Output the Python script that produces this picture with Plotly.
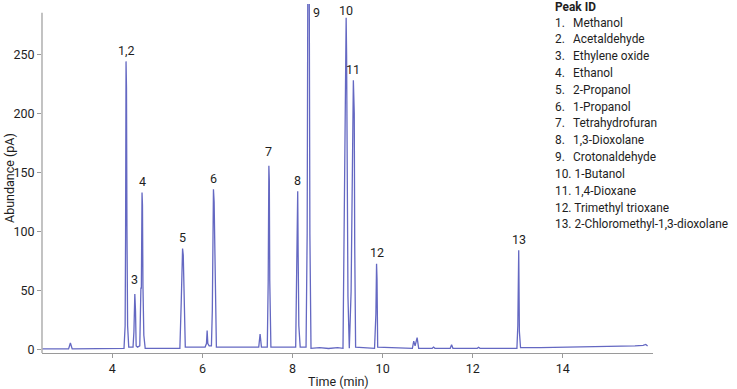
import plotly.graph_objects as go

# ---- chromatogram trace (time in min, abundance in pA) ----
time_min = [2.45, 3.03, 3.07, 3.11, 4.26, 4.285, 4.295, 4.305, 4.315, 4.325, 4.34, 4.365,
            4.46, 4.48, 4.50, 4.515, 4.53, 4.56, 4.61, 4.635, 4.645, 4.66, 4.67, 4.68, 4.70, 4.73,
            5.50, 5.53, 5.545, 5.56, 5.575, 5.59, 5.62, 6.06, 6.09, 6.105, 6.12, 6.15,
            6.20, 6.22, 6.23, 6.245, 6.26, 6.27, 6.285, 6.31, 7.25, 7.28, 7.31,
            7.44, 7.46, 7.475, 7.485, 7.495, 7.52, 8.07, 8.10, 8.115, 8.125, 8.14, 8.17,
            8.30, 8.325, 8.34, 8.37, 8.385, 8.41, 8.6, 8.8, 9.0, 9.12,
            9.155, 9.19, 9.20, 9.23, 9.26, 9.30, 9.35, 9.37, 9.38, 9.40,
            9.82, 9.85, 9.865, 9.875, 9.89, 10.66, 10.69, 10.72, 10.765, 10.80,
            11.10, 11.13, 11.16, 11.50, 11.53, 11.56, 12.10, 12.13, 12.16,
            12.98, 13.00, 13.02, 13.035, 13.06, 13.5, 14.5, 15.3, 15.6, 15.78, 15.84, 15.88]
abundance_pA = [0.5, 0.5, 5.5, 0.5, 1, 20, 95, 244, 222, 104, 20, 2,
                2, 15, 47, 33, 3, 2, 3, 52, 52, 133, 122, 55, 12, 1,
                1, 40, 78, 85.5, 80, 40, 2, 2, 5, 16, 5, 3,
                3, 33, 94, 135.6, 125, 94, 30, 2, 2, 13, 2,
                2, 58, 155.5, 143, 58, 2, 2, 70, 134, 80, 20, 2,
                2, 98, 320, 320, 98, 1, 1.5, 0.8, 1.5, 1,
                118, 281, 250, 45, 1, 49, 228, 200, 89, 2,
                1, 30, 72.5, 60, 2, 1, 7, 3, 10, 1,
                1, 2, 1, 1, 4, 1, 1, 1.8, 1,
                1, 20, 84, 15, 1.5, 1.5, 2, 2.5, 3, 3.5, 4.2, 3]

# ---- peak labels ----
peak_labels = ["1,2", "3", "4", "5", "6", "7", "8", "9", "10", "11", "12", "13"]
peak_times = [4.305, 4.50, 4.66, 5.56, 6.245, 7.475, 8.12, 8.35, 9.19, 9.35, 9.865, 13.02]
peak_heights = [244, 47, 133, 85.5, 135.6, 155.5, 134, 285, 281, 228, 72.5, 84]

# ---- peak ID list ----
peak_ids = ["1.", "2.", "3.", "4.", "5.", "6.", "7.", "8.", "9.", "10.", "11.", "12.", "13."]
compounds = ["Methanol", "Acetaldehyde", "Ethylene oxide", "Ethanol", "2-Propanol",
             "1-Propanol", "Tetrahydrofuran", "1,3-Dioxolane", "Crotonaldehyde",
             "1-Butanol", "1,4-Dioxane", "Trimethyl trioxane", "2-Chloromethyl-1,3-dioxolane"]

x_ticks = [4, 6, 8, 10, 12, 14]
y_ticks = [0, 50, 100, 150, 200, 250]

FONT = "Roboto, Arial, sans-serif"
TXT = "#1e1e1e"
AX = "#9a9a9a"

W, H = 737, 389
L, R, T, B = 42, 84, 4, 36
pw, ph = W - L - R, H - T - B
def px(x):
    return (x - L) / pw
def py(y):
    return (H - B - y) / ph

fig = go.Figure()
fig.add_trace(go.Scatter(x=time_min, y=abundance_pA, mode="lines",
                         line=dict(color="rgb(100,104,194)", width=1.3),
                         hoverinfo="skip", showlegend=False))

# peak labels
for lab, t, h in zip(peak_labels, peak_times, peak_heights):
    xs, ys = 0, 11
    if lab == "9":
        xs, ys = 8, 0
    elif lab == "10":
        ys = 7
    elif lab in ("3", "7"):
        ys = 14
    fig.add_annotation(x=t, y=h, text=lab, showarrow=False, xshift=xs, yshift=ys,
                       yanchor="middle", xanchor="center",
                       font=dict(family=FONT, size=12.5, color=TXT))

# peak ID block
LF = dict(family=FONT, size=11.9, color=TXT)
fig.add_annotation(x=px(553), y=py(7), xref="paper", yref="paper", text="<b>Peak ID</b>",
                   showarrow=False, xanchor="left", yanchor="middle", font=LF)
for i, (n, c) in enumerate(zip(peak_ids, compounds)):
    yy = py(22.5 + i * 16.83)
    if len(n) == 2:
        fig.add_annotation(x=px(553), y=yy, xref="paper", yref="paper", text=n,
                           showarrow=False, xanchor="left", yanchor="middle", font=LF)
        fig.add_annotation(x=px(571), y=yy, xref="paper", yref="paper", text=c,
                           showarrow=False, xanchor="left", yanchor="middle", font=LF)
    else:
        fig.add_annotation(x=px(553), y=yy, xref="paper", yref="paper", text=n + " " + c,
                           showarrow=False, xanchor="left", yanchor="middle", font=LF)

# axis titles
fig.add_annotation(x=px(338), y=py(381), xref="paper", yref="paper", text="Time (min)",
                   showarrow=False, xanchor="center", yanchor="middle",
                   font=dict(family=FONT, size=12.5, color=TXT))
fig.add_annotation(x=px(9), y=py(178), xref="paper", yref="paper", text="Abundance (pA)",
                   showarrow=False, xanchor="center", yanchor="middle", textangle=-90,
                   font=dict(family=FONT, size=12.5, color=TXT))

# y axis line (shorter than plot area, like the reference)
fig.add_shape(type="line", xref="paper", yref="paper", x0=0, x1=0, y0=0, y1=py(12.7),
              line=dict(color=AX, width=1.2))

fig.update_layout(
    width=W, height=H, margin=dict(l=L, r=R, t=T, b=B),
    paper_bgcolor="white", plot_bgcolor="white",
    font=dict(family=FONT, size=12, color=TXT),
    xaxis=dict(range=[2.44, 16.0], tickvals=x_ticks, ticks="outside", ticklen=4,
               tickcolor=AX, showline=True, linecolor=AX, linewidth=1.2, showgrid=False,
               zeroline=False, automargin=False,
               tickfont=dict(family=FONT, size=12.5, color=TXT)),
    yaxis=dict(range=[-3, 292.6], tickvals=y_ticks, ticks="outside", ticklen=4,
               tickcolor=AX, showline=False, showgrid=False, zeroline=False,
               automargin=False,
               tickfont=dict(family=FONT, size=12.5, color=TXT)),
)

fig.write_html("out.html", config={"displayModeBar": False},
               post_script="document.body.style.margin='0';")
